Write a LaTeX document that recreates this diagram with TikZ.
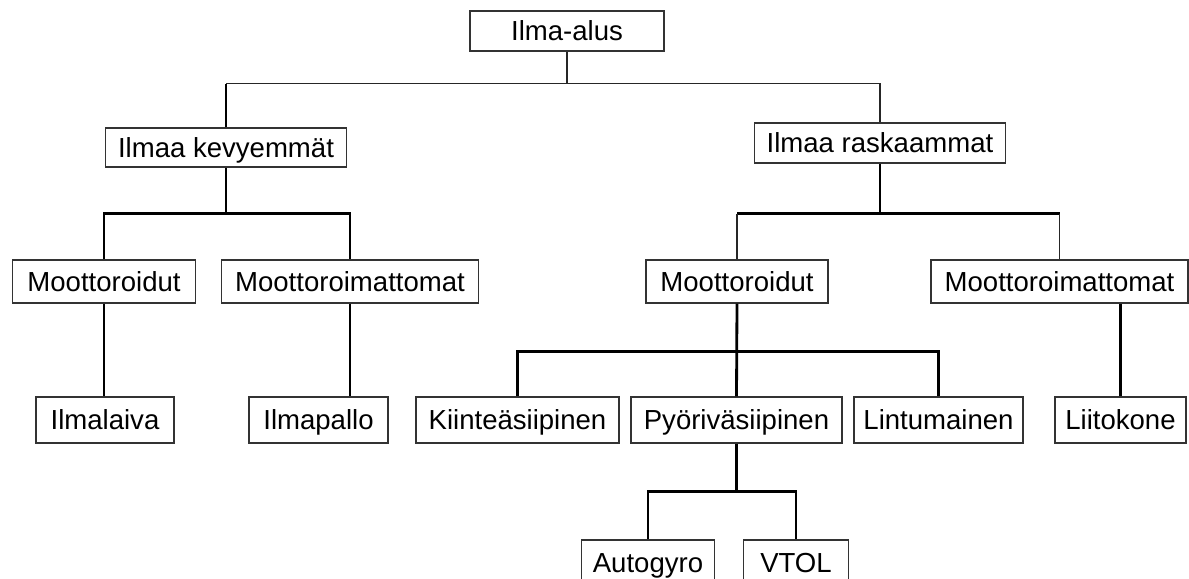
\documentclass[tikz,border=0pt]{standalone}
\usepackage{fontspec}
\setmainfont{Liberation Sans}
\usepackage{tikz}
\usetikzlibrary{positioning,calc}
\tikzset{
  treebox/.style={draw=black!80,line width=0.8pt,fill=white,inner sep=0pt,minimum height=1.0cm,
    font=\fontsize{19.6}{22}\selectfont,text height=14pt,text depth=0pt},
  thinlink/.style={line width=1.0pt,draw=black!85},
  thicklink/.style={line width=2.0pt,draw=black},
}

\begin{document}
\begin{tikzpicture}
  \useasboundingbox (0,0) rectangle (29.725,-14.475);
  % root and first split
  \node[treebox,minimum width=4.85cm]  (alus)   at (14.175,-0.775) {Ilma-alus};
  \node[treebox,minimum width=6.025cm,minimum height=0.975cm] (kevyt) at (5.65,-3.6875) {Ilmaa kevyemmät};
  \node[treebox,minimum width=6.275cm] (raskas) at (22.0,-3.575)   {Ilmaa raskaammat};
  % second level
  \node[treebox,minimum width=4.575cm,minimum height=1.075cm] (kmoot)  at (2.6,-7.0375)     {Moottoroidut};
  \node[treebox,minimum width=6.425cm,minimum height=1.075cm] (kvapaa) at (8.75,-7.0375)    {Moottoroimattomat};
  \node[treebox,minimum width=4.55cm,minimum height=1.075cm]  (rmoot)  at (18.425,-7.0375)  {Moottoroidut};
  \node[treebox,minimum width=6.425cm,minimum height=1.075cm] (rvapaa) at (26.4875,-7.0375) {Moottoroimattomat};
  % third level
  \node[treebox,minimum width=3.45cm,minimum height=1.15cm]  (ilmalaiva) at (2.625,-10.5)   {Ilmalaiva};
  \node[treebox,minimum width=3.475cm,minimum height=1.15cm] (ilmapallo) at (7.9625,-10.5)  {Ilmapallo};
  \node[treebox,minimum width=5.075cm,minimum height=1.15cm] (kiintea)   at (12.9375,-10.5) {Kiinteäsiipinen};
  \node[treebox,minimum width=5.275cm,minimum height=1.15cm] (pyoriva)   at (18.4125,-10.5) {Pyöriväsiipinen};
  \node[treebox,minimum width=4.225cm,minimum height=1.15cm] (lintu)     at (23.4625,-10.5) {Lintumainen};
  \node[treebox,minimum width=3.275cm,minimum height=1.15cm] (liito)     at (28.0125,-10.5) {Liitokone};
  % bottom row, cut by the page edge
  \node[treebox,minimum width=3.325cm,minimum height=1.15cm] (autogyro) at (16.2,-14.075)  {Autogyro};
  \node[treebox,minimum width=2.625cm,minimum height=1.15cm] (vtol)     at (19.9,-14.075)  {VTOL};

  % links from the root
  \coordinate (top) at ($(alus.south)+(0,-0.8)$);
  \draw[thinlink] (alus.south) -- (top);
  \draw[thinlink] (kevyt.north |- top) -| (raskas.north);
  \draw[thicklink] (kevyt.north) -- (kevyt.north |- top);
  % lighter than air
  \coordinate (kbar) at ($(kevyt.south)+(0,-1.15)$);
  \draw[thicklink] (kevyt.south) -- (kbar);
  \draw[thicklink] (kmoot.north) |- (kbar) -| (kvapaa.north);
  \draw[thicklink] (kmoot.south) -- (kmoot.south |- ilmalaiva.north);
  \draw[thicklink] (kvapaa.south) -- (kvapaa.south |- ilmapallo.north);
  % heavier than air
  \coordinate (rbar) at ($(raskas.south)+(0,-1.25)$);
  \draw[thicklink] (raskas.south) -- (rbar);
  \draw[thicklink] (rmoot.north |- rbar) -- (rvapaa.north |- rbar);
  \draw[thinlink] (rmoot.north) -- (rmoot.north |- rbar);
  \draw[thinlink] (rvapaa.north) -- (rvapaa.north |- rbar);
  \coordinate (mbar) at ($(rmoot.south)+(0,-1.2)$);
  \draw[thicklink] (rmoot.south) -- (pyoriva.north);
  \draw[thicklink] (kiintea.north) |- (mbar) -| (lintu.north);
  \draw[thicklink] (liito.north) -- (liito.north |- rvapaa.south);
  % rotorcraft
  \coordinate (pbar) at ($(pyoriva.south)+(0,-1.2)$);
  \draw[thicklink] (pyoriva.south) -- (pbar);
  \draw[thicklink] (autogyro.north) |- (pbar) -| (vtol.north);
\end{tikzpicture}
\end{document}
